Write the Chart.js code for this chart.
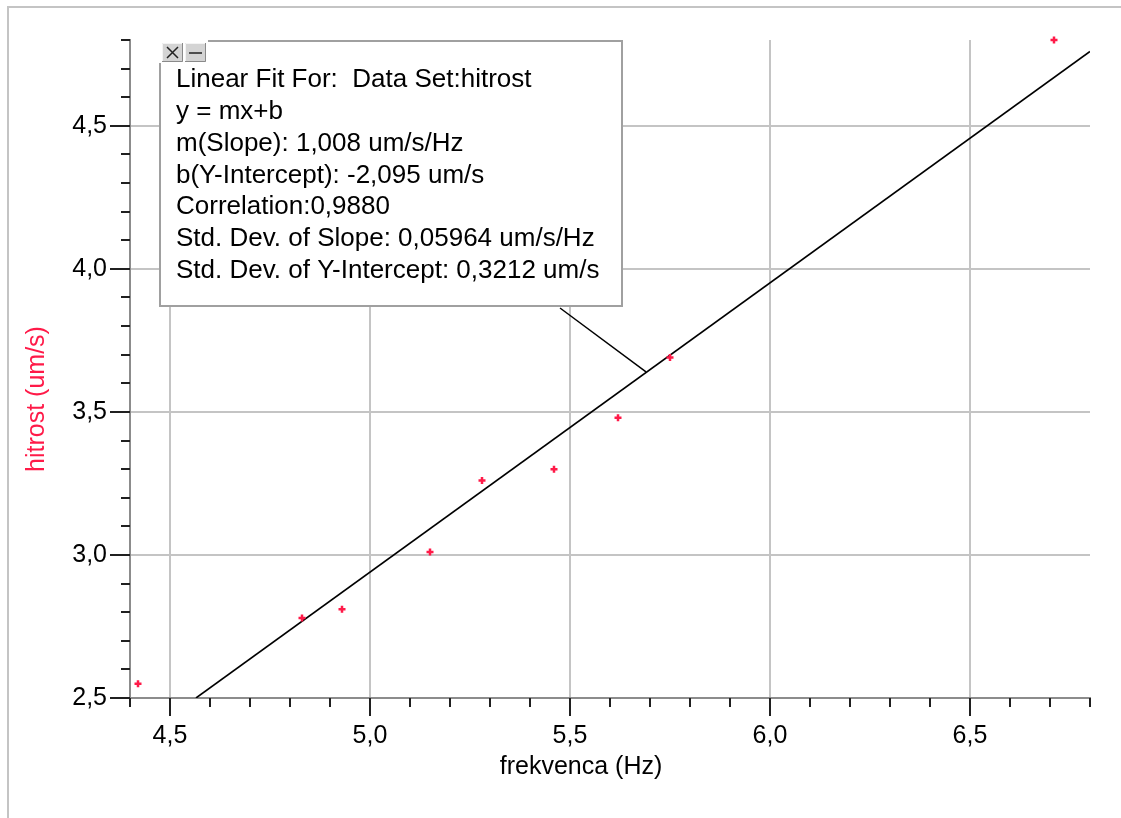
<!DOCTYPE html>
<html>
<head>
<meta charset="utf-8">
<script src="https://cdn.jsdelivr.net/npm/chart.js@4.4.0/dist/chart.umd.min.js"></script>
<style>
  html, body { margin: 0; padding: 0; background: #ffffff; }
  #wrap { width: 1121px; height: 818px; position: relative; }
</style>
</head>
<body>
<div id="wrap"><canvas id="c" width="1121" height="818"></canvas></div>
<script>
// ---- data ----
const frekvenca = [4.42, 4.83, 4.93, 5.15, 5.28, 5.46, 5.62, 5.75, 6.71];
const hitrost   = [2.55, 2.78, 2.81, 3.01, 3.26, 3.30, 3.48, 3.69, 4.80];
const fitX = [4.565, 6.80];
const fitY = [2.50, 4.76];
const leaderTarget = [5.69, 3.64];
const annotationLines = [
  'Linear Fit For:  Data Set:hitrost',
  'y = mx+b',
  'm(Slope): 1,008 um/s/Hz',
  'b(Y-Intercept): -2,095 um/s',
  'Correlation:0,9880',
  'Std. Dev. of Slope: 0,05964 um/s/Hz',
  'Std. Dev. of Y-Intercept: 0,3212 um/s'
];
const xTitle = 'frekvenca (Hz)';
const yTitle = 'hitrost (um/s)';

const FONT = '"Liberation Sans", Arial, sans-serif';
const RED = '#ff1a48';

function isMajor(v) { return Math.abs(v * 2 - Math.round(v * 2)) < 1e-6; }
function fmt(v) { return v.toFixed(1).replace('.', ','); }

const extras = {
  id: 'extras',
  beforeDraw(chart) {
    const ctx = chart.ctx;
    ctx.save();
    ctx.fillStyle = '#fff';
    ctx.fillRect(0, 0, chart.width, chart.height);
    // outer frame (top and left)
    ctx.strokeStyle = '#c4c4c4';
    ctx.lineWidth = 2;
    ctx.beginPath();
    ctx.moveTo(8, chart.height);
    ctx.lineTo(8, 7);
    ctx.lineTo(chart.width, 7);
    ctx.stroke();
    ctx.restore();
  },
  afterDraw(chart) {
    const ctx = chart.ctx;
    const xs = chart.scales.x, ys = chart.scales.y;
    ctx.save();
    // ticks
    ctx.strokeStyle = '#202020';
    ctx.lineWidth = 2;
    const axY = ys.getPixelForValue(ys.min);
    xs.ticks.forEach(t => {
      const px = Math.round(xs.getPixelForValue(t.value));
      const len = isMajor(t.value) ? 18 : 9;
      ctx.beginPath(); ctx.moveTo(px, axY); ctx.lineTo(px, axY + len); ctx.stroke();
    });
    const axX = xs.getPixelForValue(xs.min);
    ys.ticks.forEach(t => {
      const py = Math.round(ys.getPixelForValue(t.value));
      const len = isMajor(t.value) ? 20 : 9;
      ctx.beginPath(); ctx.moveTo(axX, py); ctx.lineTo(axX - len, py); ctx.stroke();
    });

    // axis titles
    ctx.font = '25px ' + FONT;
    ctx.textBaseline = 'middle';
    ctx.textAlign = 'center';
    ctx.fillStyle = '#000';
    ctx.fillText(xTitle, 581, 767);
    ctx.save();
    ctx.translate(37, 399);
    ctx.rotate(-Math.PI / 2);
    ctx.fillStyle = RED;
    ctx.fillText(yTitle, 0, 0);
    ctx.restore();

    // leader line
    const tx = xs.getPixelForValue(leaderTarget[0]);
    const ty = ys.getPixelForValue(leaderTarget[1]);
    ctx.strokeStyle = '#000';
    ctx.lineWidth = 1.5;
    ctx.beginPath(); ctx.moveTo(560, 308); ctx.lineTo(tx, ty); ctx.stroke();

    // annotation box
    const bx = 160, by = 41, bw = 462, bh = 265;
    ctx.fillStyle = '#fff';
    ctx.fillRect(bx, by, bw, bh);
    ctx.strokeStyle = '#a0a0a0';
    ctx.lineWidth = 2;
    ctx.beginPath();
    ctx.moveTo(bx, by + 22); ctx.lineTo(bx, by + bh);
    ctx.lineTo(bx + bw, by + bh); ctx.lineTo(bx + bw, by);
    ctx.lineTo(bx + 48, by);
    ctx.stroke();
    ctx.fillStyle = '#fff';
    ctx.fillRect(bx - 1, by - 4, 48, 25);

    // buttons
    function btn(x, y, w, h) {
      ctx.fillStyle = '#d4d4d4';
      ctx.fillRect(x, y, w, h);
      ctx.strokeStyle = '#f4f4f4'; ctx.lineWidth = 1;
      ctx.beginPath(); ctx.moveTo(x + 0.5, y + h); ctx.lineTo(x + 0.5, y + 0.5); ctx.lineTo(x + w, y + 0.5); ctx.stroke();
      ctx.strokeStyle = '#8a8a8a';
      ctx.beginPath(); ctx.moveTo(x + w - 0.5, y); ctx.lineTo(x + w - 0.5, y + h - 0.5); ctx.lineTo(x, y + h - 0.5); ctx.stroke();
    }
    btn(162, 43, 21, 19);
    btn(185, 43, 21, 19);
    ctx.strokeStyle = '#222'; ctx.lineWidth = 1.5;
    ctx.beginPath();
    ctx.moveTo(167, 47); ctx.lineTo(178, 58);
    ctx.moveTo(178, 47); ctx.lineTo(167, 58);
    ctx.stroke();
    ctx.beginPath(); ctx.moveTo(189, 53); ctx.lineTo(202, 53); ctx.stroke();

    // text
    ctx.fillStyle = '#000';
    ctx.font = '26px ' + FONT;
    ctx.textBaseline = 'middle';
    ctx.textAlign = 'left';
    annotationLines.forEach((s, i) => {
      ctx.fillText(s, 176, 80 + i * 31.8);
    });
    ctx.restore();
  }
};

new Chart(document.getElementById('c'), {
  type: 'scatter',
  data: {
    datasets: [
      {
        label: 'fit',
        type: 'line',
        data: fitX.map((x, i) => ({ x, y: fitY[i] })),
        borderColor: '#000',
        borderWidth: 1.6,
        pointRadius: 0,
        fill: false,
        tension: 0,
        order: 2
      },
      {
        label: 'hitrost',
        data: frekvenca.map((x, i) => ({ x, y: hitrost[i] })),
        pointStyle: 'cross',
        pointRadius: 3.5,
        borderColor: RED,
        backgroundColor: RED,
        borderWidth: 2.5,
        clip: false,
        order: 1
      }
    ]
  },
  options: {
    responsive: false,
    animation: false,
    devicePixelRatio: 1,
    layout: { padding: { left: 0, right: 31, top: 40, bottom: 0 } },
    plugins: { legend: { display: false }, tooltip: { enabled: false } },
    scales: {
      x: {
        type: 'linear',
        min: 4.4, max: 6.8,
        afterFit(s) { s.height = 120; },
        ticks: {
          stepSize: 0.1, autoSkip: false, maxRotation: 0, padding: 23,
          color: '#000', font: { family: FONT, size: 25 },
          callback: (v) => isMajor(v) ? fmt(v) : ''
        },
        grid: {
          drawTicks: false,
          color: (c) => (c.tick && isMajor(c.tick.value)) ? '#c4c4c4' : 'rgba(0,0,0,0)',
          lineWidth: 2
        },
        border: { display: true, color: '#8c8c8c', width: 2 },
        title: { display: false }
      },
      y: {
        type: 'linear',
        min: 2.5, max: 4.8,
        afterFit(s) { s.width = 130; },
        ticks: {
          stepSize: 0.1, autoSkip: false, padding: 23,
          color: '#000', font: { family: FONT, size: 25 },
          callback: (v) => isMajor(v) ? fmt(v) : ''
        },
        grid: {
          drawTicks: false,
          color: (c) => (c.tick && isMajor(c.tick.value)) ? '#c4c4c4' : 'rgba(0,0,0,0)',
          lineWidth: 2
        },
        border: { display: true, color: '#8c8c8c', width: 2 },
        title: { display: false }
      }
    }
  },
  plugins: [extras]
});
</script>
</body>
</html>
